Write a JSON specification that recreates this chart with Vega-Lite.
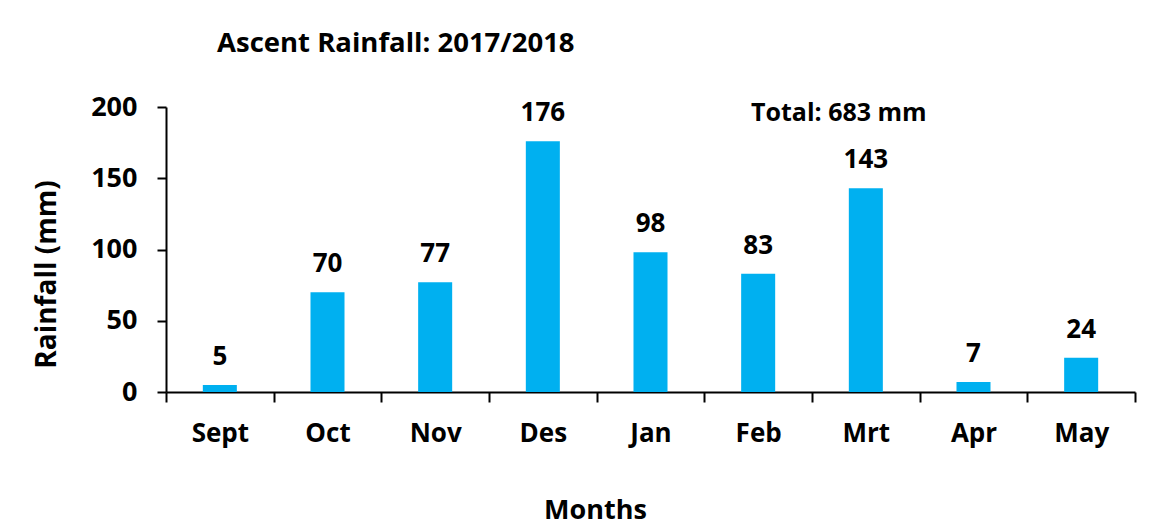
{
  "$schema": "https://vega.github.io/schema/vega-lite/v6.json",
  "autosize": {"type": "none"},
  "width": 969,
  "height": 285,
  "padding": {"left": 166, "top": 107, "right": 22, "bottom": 136},
  "background": "white",
  "config": {"view": {"stroke": null}, "font": "Open Sans"},
  "title": {
    "text": "Ascent Rainfall: 2017/2018",
    "anchor": "start",
    "frame": "group",
    "dx": 51,
    "offset": 36,
    "fontSize": 27.5,
    "fontWeight": "bold",
    "font": "Open Sans",
    "color": "black"
  },
  "data": {
    "values": [
      {"month": "Sept", "rainfall": 5},
      {"month": "Oct", "rainfall": 70},
      {"month": "Nov", "rainfall": 77},
      {"month": "Des", "rainfall": 176},
      {"month": "Jan", "rainfall": 98},
      {"month": "Feb", "rainfall": 83},
      {"month": "Mrt", "rainfall": 143},
      {"month": "Apr", "rainfall": 7},
      {"month": "May", "rainfall": 24}
    ]
  },
  "encoding": {
    "x": {
      "field": "month",
      "type": "nominal",
      "sort": null,
      "scale": {"paddingInner": 0, "paddingOuter": 0},
      "axis": {
        "title": "Months",
        "titleFontSize": 27,
        "titleFontWeight": "bold",
        "titleColor": "black",
        "titlePadding": 51,
        "titleX": 429,
        "titleAlign": "center",
        "labelAngle": 0,
        "labelFontSize": 26,
        "labelFontWeight": "bold",
        "labelColor": "black",
        "labelPadding": 18,
        "tickBand": "extent",
        "tickSize": 10,
        "tickWidth": 2,
        "tickColor": "black",
        "domainColor": "black",
        "domainWidth": 2
      }
    },
    "y": {
      "field": "rainfall",
      "type": "quantitative",
      "scale": {"domain": [0, 200], "nice": false},
      "axis": {
        "title": "Rainfall (mm)",
        "titleFontSize": 28,
        "titleFontWeight": "bold",
        "titleColor": "black",
        "titleX": -119,
        "titleY": 167,
        "titleBaseline": "middle",
        "titleAlign": "center",
        "values": [0, 50, 100, 150, 200],
        "labelFontSize": 27,
        "labelFontWeight": "bold",
        "labelColor": "black",
        "labelPadding": 20,
        "tickSize": 9,
        "tickWidth": 2,
        "tickColor": "black",
        "domainColor": "black",
        "domainWidth": 2,
        "grid": false
      }
    }
  },
  "layer": [
    {"mark": {"type": "bar", "color": "#00B0F0", "width": {"band": 0.316}}},
    {
      "mark": {"type": "text", "dy": -15, "baseline": "bottom", "fontSize": 26, "fontWeight": "bold", "color": "black"},
      "encoding": {"text": {"field": "rainfall", "type": "quantitative"}}
    },
    {
      "data": {"values": [{"label": "Total: 683 mm", "month": "Mrt", "pos": 196}]},
      "mark": {"type": "text", "dx": -27, "baseline": "middle", "fontSize": 25, "fontWeight": "bold", "color": "black"},
      "encoding": {
        "x": {"field": "month", "type": "nominal"},
        "y": {"field": "pos", "type": "quantitative"},
        "text": {"field": "label"}
      }
    }
  ]
}
